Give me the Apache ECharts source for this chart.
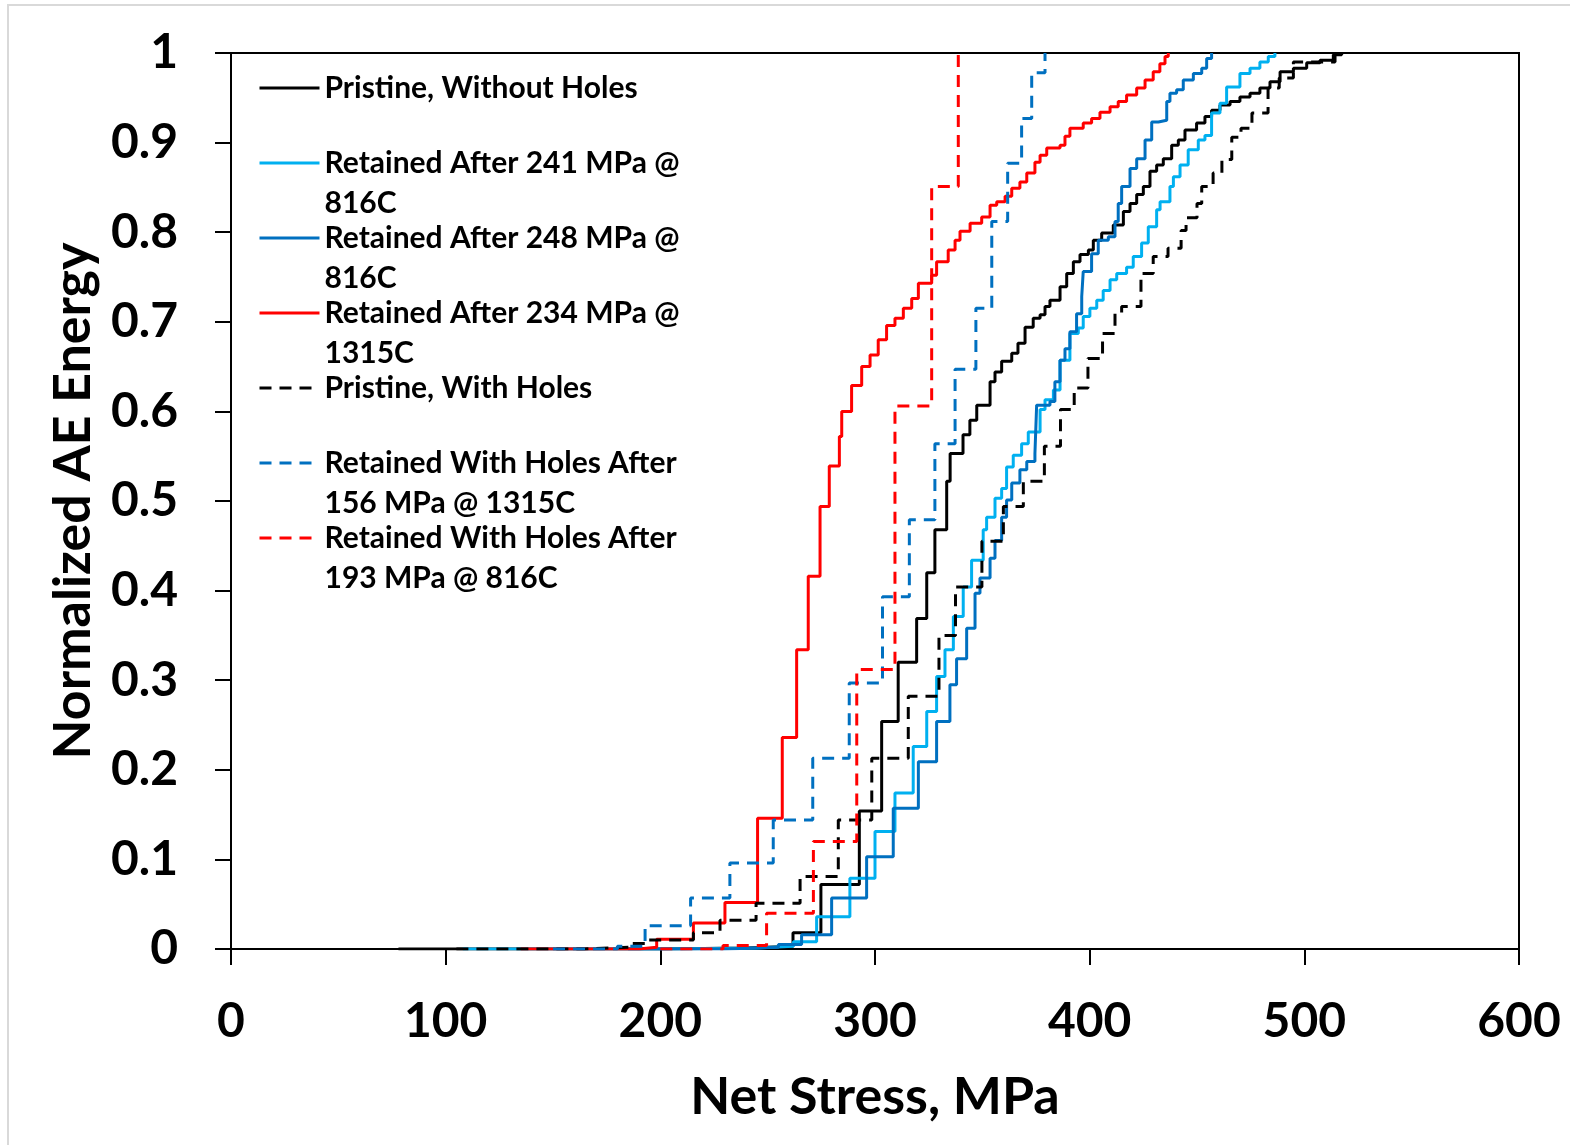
<!DOCTYPE html>
<html>
<head>
<meta charset="utf-8">
<title>Normalized AE Energy vs Net Stress</title>
<script src="https://cdn.jsdelivr.net/npm/echarts@6/dist/echarts.min.js"></script>
<style>
  html, body { margin: 0; padding: 0; background: #fff; }
  #chart { width: 1570px; height: 1145px; }
</style>
</head>
<body>
<div id="chart"></div>
<script>
// [net stress MPa, normalized AE energy] -- each point is where the step lands
const pristineNoHoles = [
  [78, 0], [200, 0.001], [240, 0.003], [261.8, 0.018], [274.8, 0.072], [292.7, 0.154], [303.1, 0.254],
  [310.8, 0.320], [319.4, 0.369], [324.1, 0.420], [327.9, 0.468], [333.4, 0.522], [335.0, 0.553],
  [341.0, 0.574], [344.2, 0.590], [347.4, 0.607], [353.6, 0.633], [355.9, 0.644], [359.0, 0.656],
  [363.7, 0.665], [366.6, 0.676], [369.9, 0.694], [373.7, 0.704], [376.9, 0.708], [379.2, 0.717],
  [381.5, 0.724], [386.2, 0.739], [389.3, 0.754], [392.4, 0.767], [395.5, 0.775], [399.4, 0.780],
  [401.7, 0.791], [405.6, 0.799], [411.0, 0.808], [415.7, 0.823], [418.8, 0.832], [421.9, 0.842],
  [425.0, 0.851], [428.1, 0.868], [431.2, 0.875], [434.3, 0.882], [438.2, 0.897], [441.3, 0.903],
  [444.4, 0.914], [449.8, 0.922], [453.7, 0.929], [456.8, 0.936], [460.7, 0.942], [465.4, 0.946],
  [470.0, 0.951], [474.7, 0.955], [479.3, 0.961], [484.0, 0.968], [488.7, 0.979], [494.9, 0.983],
  [501.1, 0.989], [507.3, 0.992], [513.5, 0.998], [517.4, 1.0]
]
const retained241 = [
  [108, 0], [200, 0.001], [245, 0.003], [262, 0.008], [272.8, 0.036], [288.3, 0.079], [300.0, 0.131],
  [309.3, 0.174], [317.8, 0.226], [324.1, 0.265], [328.7, 0.304], [332.6, 0.334], [336.5, 0.371],
  [341.1, 0.404], [345.0, 0.434], [350.4, 0.468], [352.0, 0.482], [355.9, 0.503], [359.0, 0.514],
  [361.3, 0.538], [364.4, 0.551], [368.3, 0.564], [371.4, 0.577], [376.9, 0.602], [379.2, 0.613],
  [383.1, 0.624], [386.2, 0.657], [390.8, 0.687], [394.7, 0.693], [397.0, 0.706], [400.1, 0.715],
  [403.3, 0.724], [406.3, 0.735], [409.5, 0.747], [412.6, 0.754], [417.2, 0.761], [420.3, 0.773],
  [424.2, 0.788], [427.3, 0.806], [431.2, 0.825], [432.8, 0.834], [437.4, 0.851], [439.0, 0.862],
  [442.1, 0.875], [445.9, 0.892], [450.6, 0.903], [453.7, 0.908], [456.8, 0.933], [460.7, 0.944],
  [463.8, 0.962], [470.0, 0.977], [474.7, 0.983], [479.3, 0.990], [483.2, 0.996], [486.3, 1.0]
]
const retained248 = [
  [185, 0], [230, 0.002], [255, 0.005], [265.8, 0.016], [279.8, 0.057], [296.1, 0.103], [308.5, 0.157],
  [320.2, 0.209], [328.7, 0.254], [334.9, 0.295], [338.0, 0.324], [342.7, 0.358], [346.6, 0.397],
  [348.9, 0.414], [353.6, 0.436], [355.9, 0.456], [359.0, 0.482], [361.3, 0.501], [363.7, 0.520],
  [367.5, 0.535], [370.7, 0.544], [374.5, 0.553], [375.3, 0.607], [381.5, 0.611], [383.8, 0.633],
  [386.2, 0.657], [388.5, 0.670], [390.8, 0.689], [393.9, 0.709], [396.3, 0.728], [397.0, 0.756],
  [400.9, 0.776], [404.0, 0.791], [408.7, 0.795], [411.8, 0.812], [413.3, 0.832], [414.9, 0.851],
  [418.8, 0.871], [421.9, 0.882], [425.8, 0.903], [428.9, 0.923], [432.0, 0.925], [435.9, 0.946],
  [437.4, 0.955], [440.5, 0.959], [443.6, 0.970], [448.3, 0.977], [452.2, 0.983], [454.5, 0.994],
  [456.8, 1.0]
]
const retained234 = [
  [135, 0], [190, 0.002], [198.3, 0.011], [215.4, 0.029], [230.1, 0.052], [245.3, 0.146], [256.8, 0.236],
  [263.5, 0.334], [268.9, 0.416], [274.4, 0.494], [278.7, 0.539], [283.4, 0.572], [284.5, 0.600],
  [289.1, 0.629], [293.8, 0.650], [297.7, 0.663], [301.5, 0.680], [305.4, 0.696], [309.3, 0.704],
  [313.2, 0.715], [317.1, 0.726], [320.2, 0.743], [326.4, 0.752], [328.7, 0.767], [334.1, 0.780],
  [337.3, 0.791], [339.6, 0.801], [344.3, 0.810], [349.7, 0.817], [353.6, 0.830], [356.7, 0.834],
  [360.6, 0.840], [363.7, 0.849], [367.5, 0.856], [370.7, 0.866], [374.5, 0.878], [376.9, 0.886],
  [380.0, 0.894], [386.2, 0.897], [388.5, 0.907], [390.8, 0.916], [397.0, 0.922], [400.9, 0.927],
  [404.8, 0.934], [409.5, 0.940], [413.3, 0.946], [417.2, 0.953], [421.9, 0.961], [425.8, 0.970],
  [429.6, 0.979], [432.7, 0.988], [435.1, 0.996], [436.6, 1.0]
]
const pristineHoles = [
  [105, 0], [165, 0.002], [186, 0.006], [193.3, 0.010], [215.4, 0.018], [227.8, 0.032], [244.6, 0.051],
  [265.1, 0.081], [282.9, 0.144], [298.5, 0.213], [315.5, 0.282], [329.8, 0.350], [337.5, 0.404],
  [349.8, 0.455], [359.8, 0.494], [369.1, 0.522], [378.9, 0.561], [386.4, 0.602], [392.8, 0.626],
  [399.2, 0.659], [406.0, 0.687], [411.8, 0.710], [414.9, 0.717], [423.9, 0.754], [429.6, 0.773],
  [436.5, 0.782], [442.6, 0.802], [444.9, 0.816], [450.0, 0.832], [452.2, 0.851], [457.5, 0.866],
  [461.6, 0.881], [466.2, 0.906], [470.5, 0.916], [475.6, 0.933], [483.1, 0.961], [488.3, 0.972],
  [494.9, 0.990], [514.3, 1.0]
]
const retainedHoles156 = [
  [150, 0], [180, 0.003], [192.9, 0.026], [214.1, 0.057], [232.4, 0.096], [252.6, 0.144], [271.0, 0.213],
  [288.0, 0.297], [303.5, 0.393], [316.0, 0.479], [327.9, 0.564], [337.3, 0.647], [347.0, 0.715],
  [354.4, 0.812], [361.8, 0.877], [368.3, 0.927], [373.0, 0.978], [379.2, 1.0]
]
const retainedHoles193 = [
  [200, 0], [229.2, 0.004], [249.5, 0.040], [271.3, 0.120], [291.5, 0.312], [309.3, 0.606],
  [326.4, 0.851], [338.8, 1.0]
]

const seriesNames = [
  'Pristine, Without Holes',
  'Retained After 241 MPa @ 816C',
  'Retained After 248 MPa @ 816C',
  'Retained After 234 MPa @ 1315C',
  'Pristine, With Holes',
  'Retained With Holes After 156 MPa @ 1315C',
  'Retained With Holes After 193 MPa @ 816C'
]
// how the legend wraps each entry
const legendLabels = [
  'Pristine, Without Holes',
  'Retained After 241 MPa @\n816C',
  'Retained After 248 MPa @\n816C',
  'Retained After 234 MPa @\n1315C',
  'Pristine, With Holes',
  'Retained With Holes After\n156 MPa @ 1315C',
  'Retained With Holes After\n193 MPa @ 816C'
]

const FONT = 'Lato'
const chart = echarts.init(document.getElementById('chart'))

function stepLine(name, data, color, dashed) {
  return {
    name: name,
    type: 'line',
    data: data,
    step: 'end',
    symbol: 'none',
    animation: false,
    itemStyle: { color: color },
    lineStyle: { color: color, width: 3, type: dashed ? [12, 8] : 'solid' }
  }
}

const series = [
  stepLine(seriesNames[0], pristineNoHoles, '#000000', false),
  stepLine(seriesNames[1], retained241, '#00B0F0', false),
  stepLine(seriesNames[2], retained248, '#0070C0', false),
  stepLine(seriesNames[3], retained234, '#FF0000', false),
  stepLine(seriesNames[4], pristineHoles, '#000000', true),
  stepLine(seriesNames[5], retainedHoles156, '#0070C0', true),
  stepLine(seriesNames[6], retainedHoles193, '#FF0000', true)
]

// legend icon is centred on the text block, so every label becomes 3 rows
// with its first real row in the middle (blank row above, blank or wrap row below)
function legendText(name) {
  const label = legendLabels[seriesNames.indexOf(name)]
  return label.indexOf('\n') > -1 ? ' \n' + label : ' \n' + label + '\n '
}

const option = {
  backgroundColor: '#ffffff',
  animation: false,
  grid: {
    left: 231,
    right: 51,
    top: 53,
    bottom: 196,
    show: true,
    borderColor: '#000',
    borderWidth: 2,
    outerBoundsMode: 'none'
  },
  legend: {
    orient: 'vertical',
    left: 258,
    top: 28,
    padding: 0,
    itemGap: -45,
    itemWidth: 60,
    itemHeight: 10,
    selectedMode: false,
    data: seriesNames,
    formatter: legendText,
    itemStyle: { opacity: 0 },
    lineStyle: { width: 3 },
    textStyle: {
      color: '#000',
      fontFamily: FONT,
      fontWeight: 'bold',
      fontSize: 30,
      lineHeight: 40
    }
  },
  xAxis: {
    type: 'value',
    min: 0,
    max: 600,
    interval: 100,
    name: 'Net Stress, MPa',
    nameLocation: 'middle',
    nameGap: 122,
    nameTextStyle: { color: '#000', fontFamily: FONT, fontWeight: 'bold', fontSize: 52 },
    axisLine: { show: true, lineStyle: { color: '#000', width: 2 } },
    axisTick: { show: true, length: 16, lineStyle: { color: '#000', width: 2 } },
    axisLabel: { color: '#000', fontFamily: FONT, fontWeight: 'bold', fontSize: 48, margin: 49 },
    splitLine: { show: false }
  },
  yAxis: {
    type: 'value',
    min: 0,
    max: 1,
    interval: 0.1,
    name: 'Normalized AE Energy',
    nameLocation: 'middle',
    nameGap: 132,
    nameTextStyle: { color: '#000', fontFamily: FONT, fontWeight: 'bold', fontSize: 52 },
    axisLine: { show: true, lineStyle: { color: '#000', width: 2 } },
    axisTick: { show: true, length: 16, lineStyle: { color: '#000', width: 2 } },
    axisLabel: { color: '#000', fontFamily: FONT, fontWeight: 'bold', fontSize: 48, margin: 53 },
    splitLine: { show: false }
  },
  graphic: [
    {
      // chart-area border, only the top and left edges fall inside the picture
      type: 'rect',
      silent: true,
      shape: { x: 8, y: 5, width: 1700, height: 1300 },
      style: { fill: 'none', stroke: '#d9d9d9', lineWidth: 2 }
    }
  ],
  series: series
}

chart.setOption(option)
</script>
</body>
</html>
